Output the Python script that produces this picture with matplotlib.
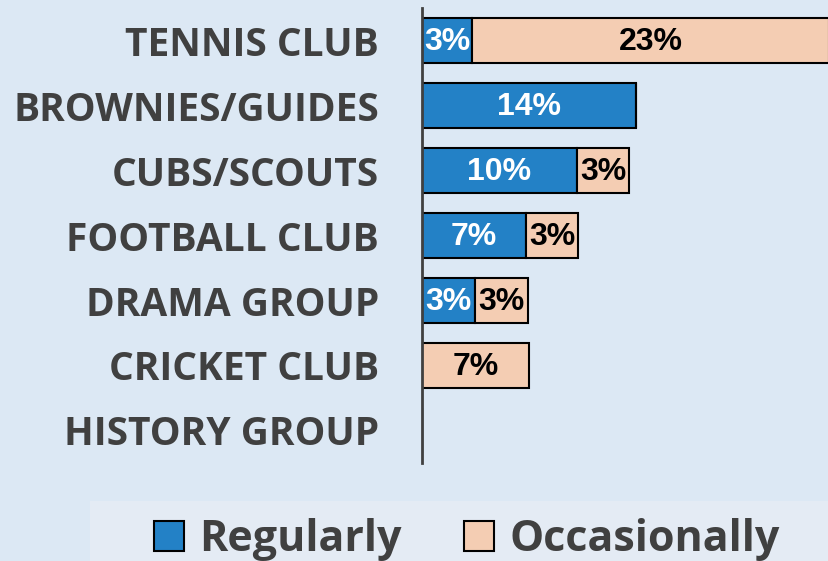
import matplotlib
matplotlib.use('Agg')
import matplotlib.pyplot as plt
from matplotlib.patches import Rectangle

# data
categories = ['TENNIS CLUB', 'BROWNIES/GUIDES', 'CUBS/SCOUTS', 'FOOTBALL CLUB',
              'DRAMA GROUP', 'CRICKET CLUB', 'HISTORY GROUP']
regularly = [3.3, 14.0, 10.1, 6.8, 3.45, 0.0, 0.0]
occasionally = [23.3, 0.0, 3.45, 3.4, 3.45, 7.0, 0.0]
series_names = ['Regularly', 'Occasionally']

BG = '#dce8f4'
LEG_BG = '#e4ebf4'
BLUE = '#2381c6'
PEACH = '#f4cdb3'
GREY = '#404040'
LABEL_FONT = ['Open Sans', 'DejaVu Sans']
NUM_FONT = ['Liberation Sans', 'DejaVu Sans']

fig = plt.figure(figsize=(8.29, 5.61), dpi=100, facecolor=BG)
ax = fig.add_axes([0.509, 0.1747, 0.491, 0.811])
ax.set_facecolor(BG)

y = range(len(categories))
b1 = ax.barh(y, regularly, height=0.7, color=BLUE, edgecolor='black',
             linewidth=1.5, label=series_names[0])
b2 = ax.barh(y, occasionally, left=regularly, height=0.7, color=PEACH,
             edgecolor='black', linewidth=1.5, label=series_names[1])

# segment labels
for i in y:
    if regularly[i] > 0:
        ax.text(regularly[i] / 2, i + 0.03, f'{round(regularly[i])}%', ha='center',
                va='center', color='white', fontsize=23, fontweight='bold',
                family=NUM_FONT)
    if occasionally[i] > 0:
        ax.text(regularly[i] + occasionally[i] / 2, i + 0.03,
                f'{round(occasionally[i])}%', ha='center', va='center',
                color='black', fontsize=23, fontweight='bold', family=NUM_FONT)

ax.set_xlim(0, 26.6)
ax.set_ylim(6.5, -0.5)
ax.set_yticks(list(y))
ax.set_yticklabels(categories, fontsize=28, fontweight='bold', color=GREY,
                   family=LABEL_FONT)
ax.tick_params(axis='y', length=0, pad=31)
ax.set_xticks([])
for s in ['top', 'right', 'bottom']:
    ax.spines[s].set_visible(False)
ax.spines['left'].set_color(GREY)
ax.spines['left'].set_linewidth(2)

# legend box
fig.patches.append(Rectangle((0.1086, 0), 0.9, 0.107, transform=fig.transFigure,
                             facecolor=LEG_BG, edgecolor='none', zorder=0))
leg = fig.legend(handles=[b1, b2], loc='center', bbox_to_anchor=(0.563, 0.038),
                 ncol=2, frameon=False, handlelength=0.7, handleheight=0.7,
                 handletextpad=0.35, columnspacing=1.45,
                 prop={'family': LABEL_FONT, 'weight': 'bold', 'size': 31})
for t in leg.get_texts():
    t.set_color(GREY)

fig.savefig('out.png', dpi=100, facecolor=BG)
